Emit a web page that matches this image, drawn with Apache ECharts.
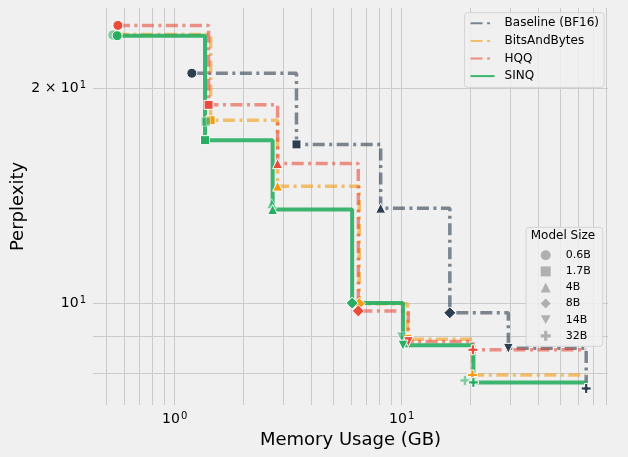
<!DOCTYPE html>
<html><head><meta charset="utf-8">
<script src="https://cdn.jsdelivr.net/npm/echarts@6/dist/echarts.min.js"></script>
<style>html,body{margin:0;padding:0;background:#f0f0f0}#c{width:628px;height:457px}</style>
</head><body><div id="c"></div>
<script>
// ---------------- data ----------------
const modelSizes = ['0.6B', '1.7B', '4B', '8B', '14B', '32B'];
const methods = ['Baseline (BF16)', 'BitsAndBytes', 'HQQ', 'SINQ'];

const memBaseline = [1.19, 3.44, 8.08, 16.3, 29.5, 65.0];
const pplBaseline = [21.0, 16.7, 13.6, 9.71, 8.66, 7.61];

const memBnB = [0.556, 1.44, 2.84, 6.5, 10.6, 20.5];
const pplBnB = [23.8, 18.05, 14.6, 10.0, 8.92, 7.95];

const memHQQ = [0.562, 1.41, 2.84, 6.44, 10.7, 20.6];
const pplHQQ = [24.5, 18.97, 15.7, 9.77, 8.85, 8.62];

const memSINQ = [0.558, 1.36, 2.70, 6.05, 10.13, 20.7];
const pplSINQ = [23.7, 16.93, 13.54, 10.02, 8.75, 7.76];

// second (faint) SINQ marker set
const sinqAltSizeIdx = [0, 1, 2, 4, 5];
const memSINQAlt = [0.534, 1.37, 2.675, 10.0, 19.0];
const pplSINQAlt = [23.75, 17.97, 13.8, 8.98, 7.81];

const xGridValues = [0.5, 0.6, 0.7, 0.8, 0.9, 1, 2, 3, 4, 5, 6, 7, 8, 9, 10, 20, 30, 40, 50, 60, 70, 80];
const yGridValues = [8, 9, 10, 20];
const yMinorLabelValues = [20];

// ---------------- styles ----------------
const F = 'DejaVu Sans';
const DOWN = 'path://M0,0L10,0L5,8.66Z';
const PLUS = 'path://M3.4,0H6.6V3.4H10V6.6H6.6V10H3.4V6.6H0V3.4H3.4Z';
const sizeSymbols = ['circle', 'rect', 'triangle', 'diamond', DOWN, PLUS];
const sizeSymbolSizes = [10, 9, 10, 12, 10, 10];
const markerColors = ['#2c3e50', '#f39c12', '#e74c3c', '#27ae60'];
const lineColors = ['rgba(44,62,80,0.6)', 'rgba(243,156,18,0.6)', 'rgba(231,76,60,0.6)', 'rgba(39,174,96,0.9)'];
const dashDot = [12, 4.5, 3, 4.5];

const mems = [memBaseline, memBnB, memHQQ, memSINQ];
const ppls = [pplBaseline, pplBnB, pplHQQ, pplSINQ];
const xEnd = Math.max(...memBaseline);

function sup(v) {
  const e = Math.floor(Math.log10(v) + 1e-9);
  const m = Math.round(v / Math.pow(10, e));
  return (m === 1 ? '' : m + ' × ') + '{b|10}{s|' + e + '}';
}
function isPow10(v) {
  const e = Math.round(Math.log10(v));
  return Math.abs(v - Math.pow(10, e)) < 1e-6 * v;
}
const richLab = {
  b: { fontFamily: F, fontSize: 14, color: '#000' },
  s: { fontFamily: F, fontSize: 10, color: '#000', verticalAlign: 'top', padding: [0, 0, 6, 1] }
};

const series = [];
// step lines
methods.forEach((name, k) => {
  const d = mems[k].map((m, i) => [m, ppls[k][i]]);
  d.push([xEnd, ppls[k][ppls[k].length - 1]]);
  series.push({
    type: 'line', name: name, step: 'end', symbol: 'none', data: d,
    color: markerColors[k],
    lineStyle: { color: lineColors[k], width: k === 3 ? 4 : 3.5, type: k === 3 ? 'solid' : dashDot, cap: 'butt' },
    z: 2, silent: true
  });
});
// gridlines via markLine on a helper series
series[0].markLine = {
  silent: true, symbol: ['none', 'none'], z: 1, animation: false,
  lineStyle: { color: '#cbcbcb', width: 1, type: 'solid' },
  emphasis: { disabled: true },
  label: { show: false },
  data: [
    ...xGridValues.map(v => ({ xAxis: v })),
    ...yGridValues.map(v => (yMinorLabelValues.includes(v) ? {
      yAxis: v,
      label: { show: true, position: 'start', distance: 7, formatter: sup(v), fontFamily: F, fontSize: 14, color: '#000', rich: richLab }
    } : { yAxis: v }))
  ]
};
// markers
const addMarkers = (name, memArr, pplArr, idxArr, k, opacity) => {
  series.push({
    type: 'scatter', name: name,
    data: memArr.map((m, i) => {
      const s = idxArr ? idxArr[i] : i;
      return { value: [m, pplArr[i]], symbol: sizeSymbols[s], symbolSize: sizeSymbolSizes[s] };
    }),
    itemStyle: { color: markerColors[k], borderColor: '#ffffff', borderWidth: 1, opacity: opacity },
    z: 3, silent: true
  });
};
methods.forEach((name, k) => {
  if (k === 3) addMarkers('SINQ alt', memSINQAlt, pplSINQAlt, sinqAltSizeIdx, 3, 0.55);
  addMarkers(name + ' markers', mems[k], ppls[k], null, k, 1);
});
// legend dummies for model sizes
modelSizes.forEach((s, i) => {
  series.push({ type: 'scatter', name: s, data: [], itemStyle: { color: '#a0a0a0' } });
});

const chart = echarts.init(document.getElementById('c'), null, { renderer: 'canvas' });
chart.setOption({
  backgroundColor: '#f0f0f0',
  animation: false,
  textStyle: { fontFamily: F },
  grid: { left: 93, right: 20, top: 8, bottom: 52 },
  xAxis: {
    type: 'log', logBase: 10, min: 0.4365, max: 81.1,
    name: 'Memory Usage (GB)', nameLocation: 'middle', nameGap: 22,
    nameTextStyle: { fontFamily: F, fontSize: 18, color: '#000' },
    axisLine: { show: false }, axisTick: { show: false }, splitLine: { show: false },
    axisLabel: {
      showMinLabel: false, showMaxLabel: false, margin: 6,
      formatter: v => (isPow10(v) ? sup(v) : ''), rich: richLab
    }
  },
  yAxis: {
    type: 'log', logBase: 10, min: 7.216, max: 25.91,
    name: 'Perplexity', nameLocation: 'middle', nameGap: 66,
    nameTextStyle: { fontFamily: F, fontSize: 18, color: '#000' },
    axisLine: { show: false }, axisTick: { show: false }, splitLine: { show: false },
    axisLabel: {
      showMinLabel: false, showMaxLabel: false, margin: 7,
      formatter: v => (isPow10(v) ? sup(v) : ''), rich: richLab
    }
  },
  title: {
    text: 'Model Size', left: 563, top: 230, textAlign: 'center', padding: 0,
    textStyle: { fontFamily: F, fontSize: 12, fontWeight: 'normal', color: '#000' }
  },
  legend: [
    {
      data: methods, orient: 'vertical', right: 24, top: 12.7,
      itemWidth: 24, itemHeight: 12, itemGap: 3.6,
      padding: [3.6, 5, 4.3, 5],
      itemStyle: { opacity: 0 },
      backgroundColor: 'rgba(240,240,240,0.85)', borderColor: '#d4d4d4', borderWidth: 1, borderRadius: 3,
      textStyle: { fontFamily: F, fontSize: 12, color: '#000', lineHeight: 14, padding: [0, 0, 0, 5] },
      selectedMode: false
    },
    {
      data: modelSizes.map((n, i) => ({ name: n, icon: sizeSymbols[i] })),
      orient: 'vertical', left: 526, top: 227.3,
      itemWidth: 10, itemHeight: 10, itemGap: 2.1,
      padding: [21, 12, 3.5, 14.7],
      backgroundColor: 'rgba(240,240,240,0.85)', borderColor: '#d4d4d4', borderWidth: 1, borderRadius: 3,
      textStyle: { fontFamily: F, fontSize: 11, color: '#000', lineHeight: 14, padding: [0, 0, 0, 10] },
      selectedMode: false
    }
  ],
  series: series
});
</script>
</body></html>
